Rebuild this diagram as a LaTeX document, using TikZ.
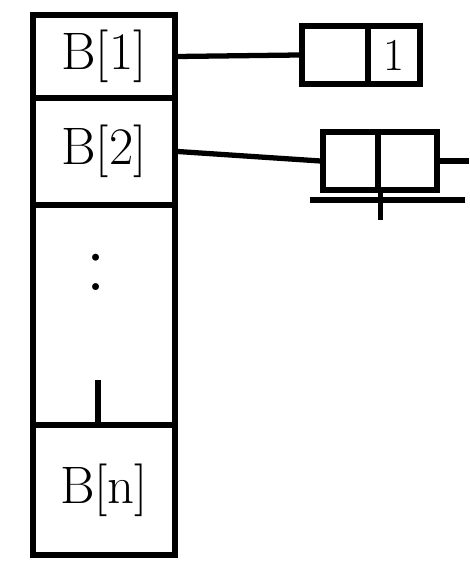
\documentclass[tikz,border=0pt]{standalone}
\usetikzlibrary{positioning}

\tikzset{
    bucket/.style={draw, line width=3pt, minimum width=2.84cm, inner sep=0pt, font=\fontsize{30}{36}\selectfont},
    entry/.style={draw, line width=3pt, minimum height=1.16cm, inner sep=0pt, font=\fontsize{26}{30}\selectfont},
    wire/.style={line width=3pt}
}

\begin{document}
\begin{tikzpicture}
    \useasboundingbox (0, 0) rectangle (9.38, -11.5);

    \node[bucket, minimum height=1.66cm] (B1) at (2.08, -1.13) {B[1]};
    \node[bucket, minimum height=2.14cm] (B2) at (2.08, -3.03) {B[2]};
    \node[bucket, minimum height=4.40cm] (Bmid) at (2.08, -6.30) {};
    \node[bucket, minimum height=2.60cm] (Bn) at (2.08, -9.80) {B[n]};

    \node[font=\fontsize{48}{56}\selectfont] (dots) at (1.92, -5.45) {:};
    \draw[wire] (1.96, -7.60) -- (1.96, -8.50);

    \node[entry, minimum width=1.32cm] (L1a) at (6.70, -1.10) {};
    \node[entry, minimum width=1.04cm] (L1b) at (7.88, -1.10) {1};
    \node[entry, minimum width=1.10cm] (L2a) at (7.01, -3.22) {};
    \node[entry, minimum width=1.18cm] (L2b) at (8.15, -3.22) {};
    \coordinate (next2) at (9.38, -3.22);

    \draw[wire] (B1.east) -- (L1a.west);
    \draw[wire] (B2.east) -- (L2a.west);
    \draw[wire] (L2b.east) -- (next2);

    \draw[wire] (6.20, -4.00) -- (9.30, -4.00);
    \draw[wire] (L2a.south east) -- ++(0, -0.54);
\end{tikzpicture}
\end{document}
